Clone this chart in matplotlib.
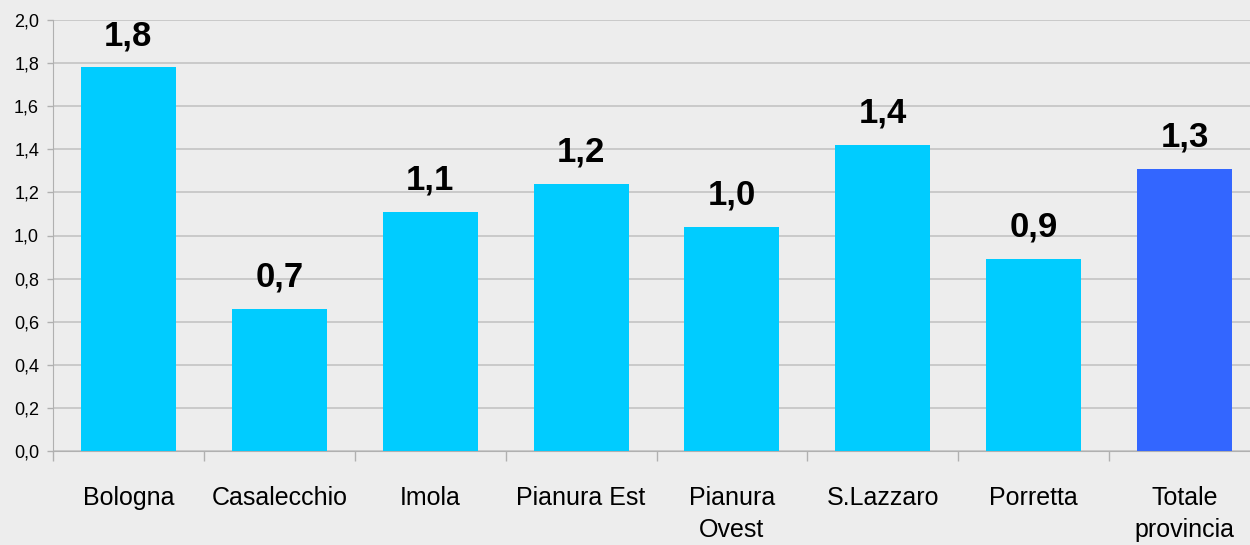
import matplotlib
matplotlib.use("Agg")
import matplotlib.pyplot as plt
from matplotlib import font_manager
from matplotlib.ticker import FixedLocator

categories = ["Bologna", "Casalecchio", "Imola", "Pianura Est", "Pianura\nOvest",
              "S.Lazzaro", "Porretta", "Totale\nprovincia"]
values = [1.78, 0.66, 1.11, 1.24, 1.04, 1.42, 0.89, 1.31]
labels = ["1,8", "0,7", "1,1", "1,2", "1,0", "1,4", "0,9", "1,3"]
colors = ["#00CCFF"] * 7 + ["#3366FF"]
yticks = [0.0, 0.2, 0.4, 0.6, 0.8, 1.0, 1.2, 1.4, 1.6, 1.8, 2.0]

avail = {f.name for f in font_manager.fontManager.ttflist}
fam = "Liberation Sans Narrow" if "Liberation Sans Narrow" in avail else "Liberation Sans"
plt.rcParams["font.family"] = [fam, "DejaVu Sans"]

bg = "#ededed"
fig = plt.figure(figsize=(12.5, 5.45), dpi=100, facecolor=bg)
ax = fig.add_axes([53 / 1250, 1 - 451 / 545, (1260 - 53) / 1250, (451 - 20) / 545])
ax.set_facecolor(bg)

x = list(range(len(categories)))
ax.bar(x, values, width=0.63, color=colors, zorder=3)
for xi, v, lab in zip(x, values, labels):
    ax.annotate(lab, (xi, v), xytext=(0, 16), textcoords="offset points",
                ha="center", va="baseline", fontsize=25, fontweight="bold")

ax.set_xlim(-0.5, len(categories) - 0.5)
ax.set_ylim(0, 2.0)
ax.set_yticks(yticks)
ax.set_yticklabels([f"{t:.1f}".replace(".", ",") for t in yticks], fontsize=13)
ax.yaxis.grid(True, color="#c4c4c4", linewidth=1.2, zorder=0)
ax.set_axisbelow(True)

ax.set_xticks(x)
ax.set_xticklabels(categories, fontsize=18, linespacing=1.45, va="top")
ax.xaxis.set_minor_locator(FixedLocator([i - 0.5 for i in range(len(categories) + 1)]))
ax.tick_params(axis="x", which="major", length=0, pad=25)
ax.tick_params(axis="x", which="minor", length=7, color="#b0b0b0", width=1)
ax.tick_params(axis="y", length=4, color="#b0b0b0", width=1, pad=6)

for s in ["top", "right"]:
    ax.spines[s].set_visible(False)
ax.spines["left"].set_color("#b0b0b0")
ax.spines["bottom"].set_color("#b0b0b0")

fig.savefig("out.png", dpi=100, facecolor=bg)
